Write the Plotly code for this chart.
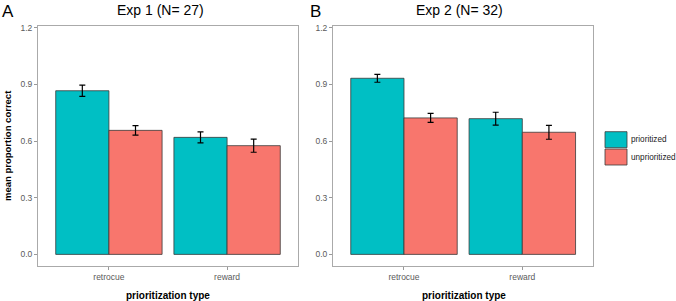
import plotly.graph_objects as go

# ---- data ----
categories = ["retrocue", "reward"]
series_names = ["prioritized", "unprioritized"]
exp1_prioritized = [0.867, 0.620]
exp1_prioritized_se = [0.030, 0.029]
exp1_unprioritized = [0.657, 0.576]
exp1_unprioritized_se = [0.025, 0.035]
exp2_prioritized = [0.933, 0.719]
exp2_prioritized_se = [0.021, 0.034]
exp2_unprioritized = [0.723, 0.647]
exp2_unprioritized_se = [0.024, 0.037]
y_ticks = [0.0, 0.3, 0.6, 0.9, 1.2]
y_tick_labels = ["0.0", "0.3", "0.6", "0.9", "1.2"]
panel_titles = ["Exp 1 (N= 27)", "Exp 2 (N= 32)"]
panel_letters = ["A", "B"]
colors = ["#00BFC4", "#F8766D"]

W, H = 676, 301
FONT = "Liberation Sans, Arial, sans-serif"

fig = go.Figure()

panels = [
    (exp1_prioritized, exp1_prioritized_se, exp1_unprioritized, exp1_unprioritized_se, "x", "y"),
    (exp2_prioritized, exp2_prioritized_se, exp2_unprioritized, exp2_unprioritized_se, "x2", "y2"),
]
for p, pse, u, use, xa, ya in panels:
    for name, vals, se, col in [(series_names[0], p, pse, colors[0]), (series_names[1], u, use, colors[1])]:
        fig.add_trace(go.Bar(
            x=categories, y=vals, name=name, xaxis=xa, yaxis=ya,
            marker=dict(color=col, line=dict(color="#3a3a3a", width=0.8)),
            error_y=dict(type="data", array=se, color="black", thickness=1.2, width=3),
            showlegend=False, offsetgroup=name, hoverinfo="skip",
        ))

def px_x(px):
    return px / W

def px_y(py):
    return 1 - py / H

ydom = [px_y(265.7), px_y(26)]
axis_common = dict(showline=True, mirror=True, linecolor="#aaaaaa", linewidth=1,
                   ticks="outside", ticklen=3, tickcolor="#999999", showgrid=False,
                   zeroline=False, automargin=False,
                   tickfont=dict(family=FONT, size=8.5, color="#5a5a5a"))

fig.update_layout(
    width=W, height=H, margin=dict(l=0, r=0, t=0, b=0),
    plot_bgcolor="white", paper_bgcolor="white",
    barmode="group", bargap=0.1, bargroupgap=0,
    xaxis=dict(domain=[px_x(38), px_x(298)], range=[-0.6, 1.6], anchor="y", **axis_common),
    xaxis2=dict(domain=[px_x(333), px_x(593.3)], range=[-0.6, 1.6], anchor="y2", **axis_common),
    yaxis=dict(domain=ydom, range=[-0.06, 1.21], tickvals=y_ticks, ticktext=y_tick_labels,
               anchor="x", **axis_common),
    yaxis2=dict(domain=ydom, range=[-0.06, 1.21], tickvals=y_ticks, ticktext=y_tick_labels,
                anchor="x2", **axis_common),
)

ann = []
# panel titles and letters
for title, letter, cx, lx in zip(panel_titles, panel_letters, [160, 459], [8, 315]):
    ann.append(dict(text=title, x=px_x(cx), y=px_y(10), xref="paper", yref="paper",
                    showarrow=False, xanchor="center", yanchor="middle",
                    font=dict(family=FONT, size=14, color="black")))
    ann.append(dict(text=letter, x=px_x(lx), y=px_y(11), xref="paper", yref="paper",
                    showarrow=False, xanchor="center", yanchor="middle",
                    font=dict(family=FONT, size=17, color="black")))
# x-axis titles
for cx in [168, 463.5]:
    ann.append(dict(text="<b>prioritization type</b>", x=px_x(cx), y=px_y(295), xref="paper", yref="paper",
                    showarrow=False, xanchor="center", yanchor="middle",
                    font=dict(family=FONT, size=10, color="black")))
# y-axis title
ann.append(dict(text="<b>mean proportion correct</b>", x=px_x(7), y=px_y(146), xref="paper", yref="paper",
                showarrow=False, xanchor="center", yanchor="middle", textangle=-90,
                font=dict(family=FONT, size=9.5, color="black")))

# manual legend
shapes = []
key_tops = [131.7, 149]
key_h = 16
for name, col, top in zip(series_names, colors, key_tops):
    shapes.append(dict(type="rect", xref="paper", yref="paper",
                       x0=px_x(605), x1=px_x(627), y0=px_y(top + key_h), y1=px_y(top),
                       fillcolor=col, line=dict(color="#3a3a3a", width=0.8)))
    ann.append(dict(text=name, x=px_x(629), y=px_y(top + key_h / 2), xref="paper", yref="paper",
                    showarrow=False, xanchor="left", yanchor="middle",
                    font=dict(family=FONT, size=8.2, color="#222222")))

fig.update_layout(annotations=ann, shapes=shapes)
fig.write_html("out.html", config={"displayModeBar": False},
               post_script="document.body.style.margin='0';document.body.style.overflow='hidden';")
